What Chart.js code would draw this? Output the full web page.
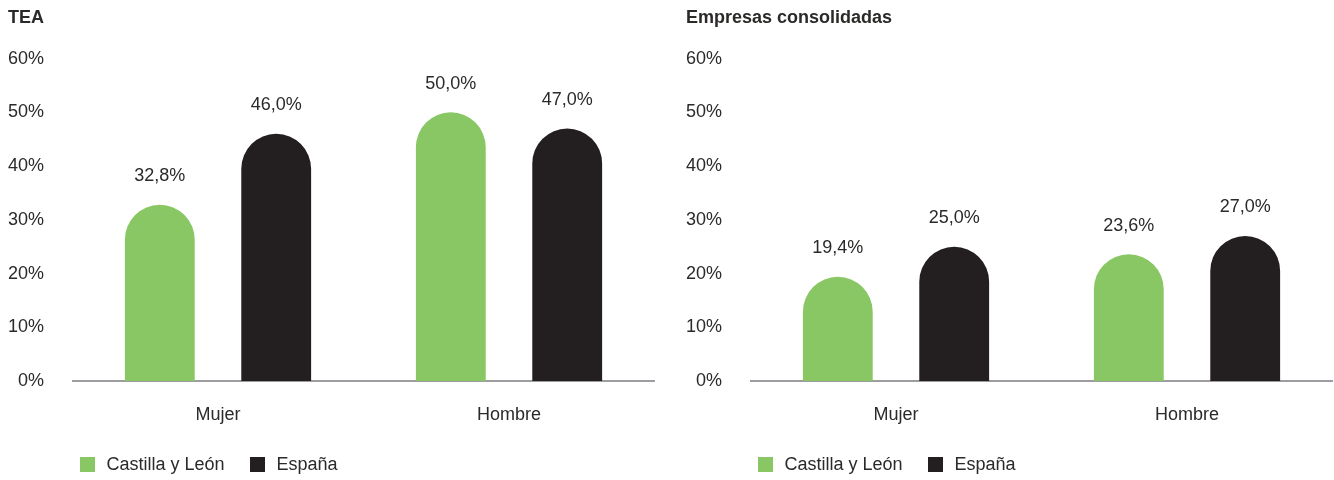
<!DOCTYPE html>
<html lang="es">
<head>
<meta charset="utf-8">
<title>TEA y empresas consolidadas por sexo</title>
<script src="https://cdn.jsdelivr.net/npm/chart.js@4.4.1/dist/chart.umd.min.js"></script>
<style>
  html, body { margin: 0; padding: 0; background: #fff; }
  #wrap { position: relative; width: 1334px; height: 480px; overflow: hidden; }
  .panel { position: absolute; top: 0; width: 656px; height: 480px; }
  .legend {
    position: absolute; top: 454px; display: flex; align-items: center;
    font: 18px "Liberation Sans", Arial, sans-serif; color: #2b2a29;
  }
  .legend-item { display: flex; align-items: center; margin-right: 25px; }
  .legend-box { width: 15px; height: 15px; margin-right: 12px; }
</style>
</head>
<body>
<div id="wrap">
  <div class="panel" style="left:0">
    <canvas id="tea" width="656" height="480"></canvas>
    <div class="legend" id="tea-legend"></div>
  </div>
  <div class="panel" style="left:678px">
    <canvas id="consolidadas" width="656" height="480"></canvas>
    <div class="legend" id="consolidadas-legend"></div>
  </div>
</div>
<script>
const categories = ['Mujer', 'Hombre']
const seriesNames = ['Castilla y León', 'España']
const seriesColors = ['#89c765', '#231f20']

// TEA (%)
const teaCyl = [32.8, 50.0]
const teaEsp = [46.0, 47.0]

// Empresas consolidadas (%)
const consolidadasCyl = [19.4, 23.6]
const consolidadasEsp = [25.0, 27.0]

const yMin = 0
const yMax = 60
const yStep = 10

const textColor = '#2b2a29'
const fontFamily = '"Liberation Sans", Arial, sans-serif'

const formatPct = (v) => v.toFixed(1).replace('.', ',') + '%'

// writes the value above every bar
const valueLabels = {
  id: 'valueLabels',
  afterDatasetsDraw(chart) {
    const { ctx } = chart
    ctx.save()
    ctx.font = `18px ${fontFamily}`
    ctx.fillStyle = textColor
    ctx.textAlign = 'center'
    ctx.textBaseline = 'alphabetic'
    chart.data.datasets.forEach((ds, i) => {
      chart.getDatasetMeta(i).data.forEach((bar, j) => {
        ctx.fillText(formatPct(ds.data[j]), bar.x, bar.y - 23.5)
      })
    })
    ctx.restore()
  }
}

const buildLegend = (chart, element) => {
  const items = chart.options.plugins.legend.labels.generateLabels(chart)
  items.forEach(item => {
    const li = document.createElement('div')
    li.className = 'legend-item'
    const box = document.createElement('span')
    box.className = 'legend-box'
    box.style.background = item.fillStyle
    const label = document.createElement('span')
    label.textContent = item.text
    li.appendChild(box)
    li.appendChild(label)
    element.appendChild(li)
  })
  element.style.left = (chart.chartArea.left + 7) + 'px'
}

const buildBarChart = (canvasId, title, cyl, esp) => {
  const data = {
    labels: categories,
    datasets: [cyl, esp].map((values, i) => ({
      label: seriesNames[i],
      data: values,
      backgroundColor: seriesColors[i],
      borderRadius: 35,
      borderSkipped: 'bottom',
      barPercentage: 0.6,
      categoryPercentage: 0.8
    }))
  }

  const config = {
    type: 'bar',
    data: data,
    options: {
      responsive: false,
      animation: false,
      layout: { padding: { left: 8, right: 1.5, top: 0, bottom: 31.3 } },
      plugins: {
        legend: { display: false },
        tooltip: { enabled: false },
        title: {
          display: true,
          text: title,
          align: 'start',
          color: textColor,
          font: { family: fontFamily, size: 18, weight: 'bold', lineHeight: 1.2 },
          padding: { top: 7, bottom: 30 }
        }
      },
      scales: {
        x: {
          grid: { display: false, drawTicks: false },
          border: { display: true, color: '#9d9ca1', width: 2 },
          ticks: {
            color: textColor,
            padding: 23,
            font: { family: fontFamily, size: 18, lineHeight: 1.2 }
          }
        },
        y: {
          min: yMin,
          max: yMax,
          grid: { display: false, drawTicks: false },
          border: { display: false },
          ticks: {
            stepSize: yStep,
            color: textColor,
            padding: 28.5,
            font: { family: fontFamily, size: 18 },
            callback: (v) => v + '%'
          },
          afterFit: (scale) => { scale.width = 64.5 }
        }
      }
    },
    plugins: [valueLabels]
  }

  return new Chart(document.getElementById(canvasId), config)
}

const teaChart = buildBarChart('tea', 'TEA', teaCyl, teaEsp)
const consolidadasChart = buildBarChart('consolidadas', 'Empresas consolidadas', consolidadasCyl, consolidadasEsp)

buildLegend(teaChart, document.getElementById('tea-legend'))
buildLegend(consolidadasChart, document.getElementById('consolidadas-legend'))
</script>
</body>
</html>
